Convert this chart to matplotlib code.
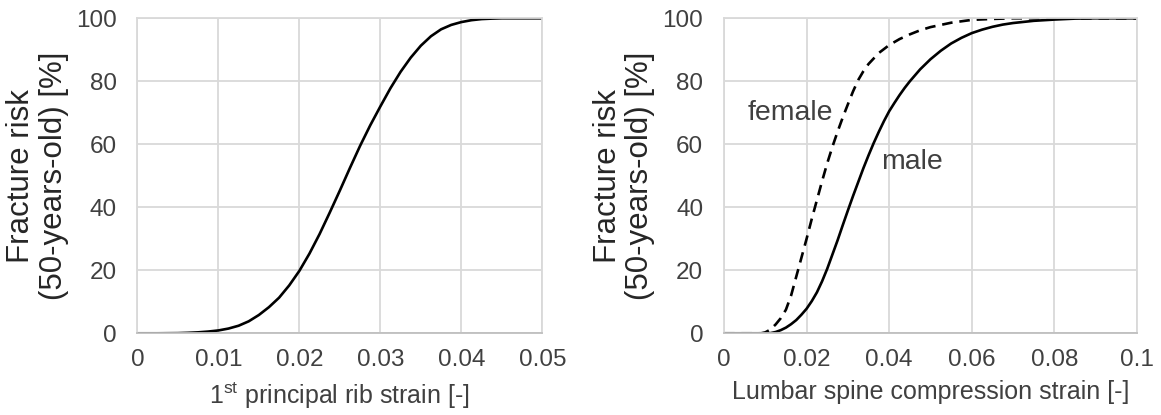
import numpy as np
import matplotlib
matplotlib.use('Agg')
import matplotlib.pyplot as plt

plt.rcParams['font.family'] = ['Liberation Sans', 'DejaVu Sans']
plt.rcParams['mathtext.fontset'] = 'custom'
plt.rcParams['mathtext.rm'] = 'Liberation Sans'
plt.rcParams['mathtext.it'] = 'Liberation Sans:italic'

# Courbe de gauche : déformation principale de la côte
rib_strain = [0, 0.0025, 0.005, 0.00625, 0.0075, 0.00875, 0.01, 0.01125, 0.0125, 0.01375,
              0.015, 0.01625, 0.0175, 0.01875, 0.02, 0.02125, 0.0225, 0.02375, 0.025, 0.02625,
              0.0275, 0.02875, 0.03, 0.03125, 0.0325, 0.03375, 0.035, 0.03625, 0.0375, 0.03875,
              0.04, 0.04125, 0.0425, 0.04375, 0.045, 0.0475, 0.05]
rib_risk = [0, 0, 0.05, 0.15, 0.3, 0.55, 0.9, 1.5, 2.4, 3.8,
            5.8, 8.3, 11.3, 15.2, 19.8, 25.3, 31.5, 38.3, 45.3, 52.5,
            59.5, 66, 72, 77.8, 83, 87.5, 91.3, 94.3, 96.5, 97.9,
            98.8, 99.4, 99.75, 99.9, 100, 100, 100]

# Courbes de droite : compression lombaire (homme / femme)
male_strain = [0, 0.005, 0.01, 0.01125, 0.0125, 0.01375, 0.015, 0.01625, 0.0175, 0.01875,
               0.02, 0.02125, 0.0225, 0.02375, 0.025, 0.02625, 0.0275, 0.02875, 0.03, 0.03125,
               0.0325, 0.03375, 0.035, 0.03625, 0.0375, 0.03875, 0.04, 0.04125, 0.0425, 0.04375,
               0.045, 0.0475, 0.05, 0.0525, 0.055, 0.0575, 0.06, 0.0625, 0.065, 0.0675,
               0.07, 0.075, 0.08, 0.085, 0.09, 0.1]
male_risk = [0, 0, 0, 0.05, 0.4, 1.0, 1.8, 2.9, 4.2, 5.9,
             7.8, 10.2, 13, 16.5, 20.5, 25, 29.5, 34.3, 39, 43.6,
             48, 52.4, 56.5, 60.4, 64, 67.4, 70.5, 73.1, 75.6, 77.9,
             80, 83.8, 87, 89.7, 92, 93.8, 95.3, 96.4, 97.3, 98,
             98.5, 99.2, 99.6, 99.9, 100, 100]

female_strain = [0, 0.005, 0.009, 0.01, 0.01125, 0.0125, 0.01375, 0.015, 0.01625, 0.0175,
                 0.01875, 0.02, 0.02125, 0.0225, 0.02375, 0.025, 0.02625, 0.0275, 0.02875, 0.03,
                 0.03125, 0.0325, 0.03375, 0.035, 0.0375, 0.04, 0.0425, 0.045, 0.0475, 0.05,
                 0.055, 0.06, 0.065, 0.07, 0.08, 0.1]
female_risk = [0, 0, 0, 0.3, 1.2, 2.8, 4.8, 7.5, 12, 18,
               24, 30, 36.3, 42.3, 48.3, 54, 59.2, 64, 68.5, 72.7,
               76.8, 80.4, 83.2, 85.5, 89, 91.5, 93.4, 94.9, 96.2, 97.2,
               98.6, 99.5, 99.8, 100, 100, 100]

left_ticks = [0, 0.01, 0.02, 0.03, 0.04, 0.05]
left_ticklabels = ['0', '0.01', '0.02', '0.03', '0.04', '0.05']
right_ticks = [0, 0.02, 0.04, 0.06, 0.08, 0.1]
right_ticklabels = ['0', '0.02', '0.04', '0.06', '0.08', '0.1']
y_ticks = [0, 20, 40, 60, 80, 100]

ylabel = 'Fracture risk\n(50-years-old) [%]'
grid_color = '#d9d9d9'
text_color = '#404040'

fig = plt.figure(figsize=(11.61, 4.15), dpi=100)
ax1 = fig.add_axes([0.1183, 0.1969, 0.3488, 0.759])
ax2 = fig.add_axes([0.6236, 0.1969, 0.3557, 0.759])


def style_axes(ax, xticks, xticklabels, xmax, xlabel):
    ax.set_xlim(0, xmax)
    ax.set_ylim(0, 100)
    ax.set_xticks(xticks)
    ax.set_xticklabels(xticklabels)
    ax.set_yticks(y_ticks)
    ax.grid(True, color=grid_color, linewidth=1.3)
    ax.set_axisbelow(True)
    for side in ['top', 'right', 'left']:
        ax.spines[side].set_color(grid_color)
        ax.spines[side].set_linewidth(1.3)
    ax.spines['bottom'].set_color('#bfbfbf')
    ax.spines['bottom'].set_linewidth(1.3)
    ax.tick_params(axis='both', length=0, labelsize=17.5, labelcolor=text_color)
    ax.tick_params(axis='x', pad=11)
    ax.tick_params(axis='y', pad=15)
    ax.set_xlabel(xlabel, fontsize=18, color=text_color, labelpad=7)
    ax.set_ylabel(ylabel, fontsize=22.5, color='#262626', labelpad=5, linespacing=1.12)


ax1.plot(rib_strain, rib_risk, color='black', linewidth=1.9)
style_axes(ax1, left_ticks, left_ticklabels, 0.05, r'1$^{\mathrm{st}}$ principal rib strain [-]')

ax2.plot(female_strain, female_risk, color='black', linewidth=1.9, linestyle=(0, (4, 2.6)))
ax2.plot(male_strain, male_risk, color='black', linewidth=1.9)
style_axes(ax2, right_ticks, right_ticklabels, 0.1, 'Lumbar spine compression strain [-]')

ax2.text(0.0161, 70, 'female', fontsize=20.5, color=text_color, ha='center', va='center')
ax2.text(0.0455, 54.5, 'male', fontsize=20.5, color=text_color, ha='center', va='center')

fig.savefig('out.png', dpi=100)
